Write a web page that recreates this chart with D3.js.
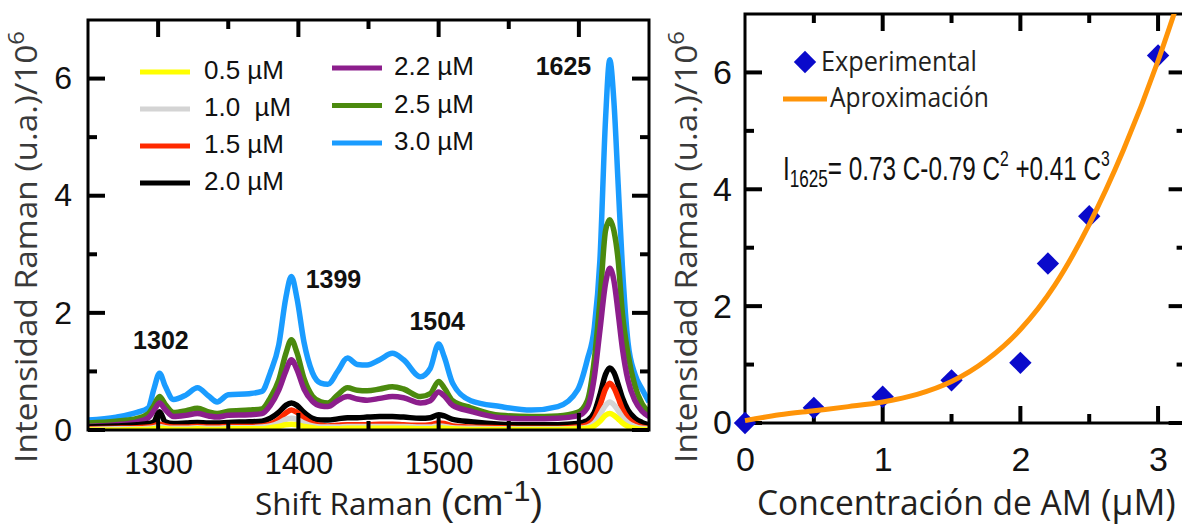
<!DOCTYPE html>
<html>
<head>
<meta charset="utf-8">
<script src="https://cdn.jsdelivr.net/npm/d3@7/dist/d3.min.js"></script>
<style>
  body { margin: 0; background: #fff; }
  svg { display: block; }
</style>
</head>
<body>
<script>
// ---- data: Raman spectra (intensity / 10^6) ----
const waveNum = [1250,1270,1285,1293,1297,1301,1305,1311,1320,1328,
                 1336,1342,1350,1365,1374,1380,1386,1391,1395,1399,
                 1404,1410,1416,1421,1428,1435,1442,1449,1458,1467,
                 1475,1487,1494,1500,1504,1510,1523,1544,1566,1585,
                 1599,1606,1611,1615,1619,1622,1625,1628,1631,1635,
                 1640,1645,1650];

const i05 = [0.00,0.00,0.01,0.01,0.02,0.03,0.02,0.01,0.01,0.02,
             0.01,0.01,0.02,0.02,0.02,0.04,0.06,0.09,0.10,0.09,
             0.06,0.04,0.02,0.02,0.02,0.03,0.03,0.03,0.03,0.03,
             0.03,0.02,0.02,0.04,0.03,0.02,0.01,0.01,0.01,0.01,
             0.02,0.03,0.07,0.15,0.25,0.28,0.25,0.19,0.12,0.06,
             0.03,0.01,0.01];
const i10 = [0.01,0.02,0.02,0.03,0.04,0.06,0.04,0.03,0.03,0.04,
             0.03,0.03,0.04,0.04,0.05,0.07,0.12,0.18,0.20,0.18,
             0.12,0.07,0.05,0.05,0.05,0.06,0.06,0.06,0.06,0.06,
             0.06,0.05,0.05,0.07,0.06,0.04,0.03,0.02,0.02,0.02,
             0.03,0.05,0.12,0.26,0.42,0.48,0.43,0.33,0.22,0.12,
             0.06,0.03,0.02];
const i15 = [0.02,0.03,0.04,0.05,0.07,0.10,0.07,0.05,0.05,0.06,
             0.05,0.05,0.06,0.06,0.07,0.10,0.18,0.29,0.34,0.30,
             0.20,0.11,0.08,0.07,0.08,0.09,0.09,0.09,0.10,0.10,
             0.09,0.08,0.09,0.12,0.11,0.07,0.05,0.04,0.03,0.03,
             0.05,0.09,0.20,0.42,0.70,0.80,0.72,0.55,0.36,0.20,
             0.10,0.05,0.03];
const i20 = [0.05,0.07,0.09,0.11,0.14,0.31,0.14,0.11,0.12,0.13,
             0.12,0.12,0.13,0.14,0.15,0.20,0.30,0.42,0.46,0.42,
             0.30,0.20,0.17,0.17,0.19,0.21,0.21,0.22,0.23,0.23,
             0.22,0.20,0.21,0.26,0.24,0.18,0.14,0.10,0.09,0.09,
             0.11,0.16,0.30,0.60,0.95,1.06,0.98,0.78,0.55,0.34,
             0.20,0.13,0.09];
const i22 = [0.06,0.09,0.14,0.21,0.33,0.46,0.35,0.23,0.25,0.28,
             0.24,0.22,0.25,0.26,0.28,0.42,0.68,1.00,1.20,1.03,
             0.70,0.49,0.41,0.40,0.50,0.57,0.53,0.51,0.54,0.57,
             0.55,0.46,0.50,0.65,0.58,0.42,0.32,0.21,0.19,0.20,
             0.24,0.38,0.90,1.70,2.50,2.76,2.55,2.00,1.40,0.85,
             0.50,0.32,0.23];
const i25 = [0.12,0.15,0.20,0.28,0.42,0.57,0.44,0.30,0.33,0.37,
             0.31,0.28,0.32,0.34,0.36,0.55,0.85,1.30,1.54,1.32,
             0.88,0.58,0.48,0.46,0.60,0.72,0.68,0.67,0.70,0.74,
             0.70,0.57,0.62,0.83,0.72,0.50,0.38,0.25,0.23,0.24,
             0.30,0.50,1.20,2.20,3.40,3.59,3.40,2.90,2.00,1.30,
             0.75,0.45,0.30];
const i30 = [0.17,0.22,0.30,0.38,0.70,0.97,0.75,0.52,0.60,0.72,
             0.58,0.48,0.60,0.62,0.66,0.98,1.45,2.25,2.62,2.25,
             1.50,0.98,0.80,0.78,1.00,1.23,1.12,1.11,1.20,1.31,
             1.20,0.91,1.05,1.47,1.25,0.80,0.50,0.40,0.34,0.40,
             0.68,1.20,1.75,2.90,5.30,6.32,5.60,4.20,2.80,1.50,
             0.95,0.70,0.48];

const seriesNames = ["0.5 µM", "1.0  µM", "1.5 µM", "2.0 µM", "2.2 µM", "2.5 µM", "3.0 µM"];
const seriesValues = [i05, i10, i15, i20, i22, i25, i30];
const seriesColors = ["#ffff00", "#d4d4d4", "#ff2a00", "#000000", "#8c1e8c", "#4b8a0e", "#1a9cff"];
const peakLabels = ["1302", "1399", "1504", "1625"];

// ---- data: calibration at 1625 cm-1 ----
const concAM = [0, 0.5, 1.0, 1.5, 2.0, 2.2, 2.5, 3.0];
const int1625 = [0, 0.26, 0.45, 0.73, 1.03, 2.73, 3.54, 6.29];
const fitConc = [0, 0.25, 0.5, 0.75, 1.0, 1.25, 1.5, 1.75, 2.0, 2.25, 2.5, 2.75, 3.0, 3.13];
const fitInt  = [0.04, 0.14, 0.21, 0.28, 0.36, 0.49, 0.71, 1.07, 1.6, 2.36, 3.4, 4.68, 6.2, 7.1];

const W = 1182, H = 527;
const numFont = "'Liberation Sans', Arial, Helvetica, sans-serif";
const humFont = "'Open Sans', 'Noto Sans', sans-serif";

const svg = d3.select("body").append("svg")
    .attr("width", W)
    .attr("height", H);

// squeeze/stretch a text horizontally so it spans a given width
function fitText(sel, x, y, width, extra) {
    const w = sel.node().getBBox().width;
    sel.attr("transform", `translate(${x},${y}) ${extra || ""} scale(${width / w},1)`);
}

// inward ticks on all four sides of a frame
function frameTicks(g, x, y, opt) {
    const [x0, x1] = x.range();
    const [y0, y1] = y.range(); // y0 bottom, y1 top
    const lines = [];
    opt.xMajor.forEach(v => { lines.push([x(v), y0, x(v), y0 - opt.major]); lines.push([x(v), y1, x(v), y1 + opt.major]); });
    opt.xMinor.forEach(v => { lines.push([x(v), y0, x(v), y0 - opt.minor]); lines.push([x(v), y1, x(v), y1 + opt.minor]); });
    opt.yMajor.forEach(v => { lines.push([x0, y(v), x0 + opt.major, y(v)]); lines.push([x1, y(v), x1 - opt.major, y(v)]); });
    opt.yMinor.forEach(v => { lines.push([x0, y(v), x0 + opt.minor, y(v)]); lines.push([x1, y(v), x1 - opt.minor, y(v)]); });
    g.append("g").selectAll("line")
        .data(lines)
        .enter().append("line")
        .attr("x1", d => d[0]).attr("y1", d => d[1])
        .attr("x2", d => d[2]).attr("y2", d => d[3])
        .attr("stroke", "#000")
        .attr("stroke-width", 4);
    g.append("rect")
        .attr("x", x0).attr("y", y1)
        .attr("width", x1 - x0).attr("height", y0 - y1)
        .attr("fill", "none")
        .attr("stroke", "#000")
        .attr("stroke-width", 3);
}

// ================= LEFT PANEL: spectra =================
const xL = d3.scaleLinear().domain([1250, 1650]).range([88, 649]);
const yL = d3.scaleLinear().domain([0, 7]).range([430, 20]);

const left = svg.append("g");

left.append("clipPath").attr("id", "clipL")
    .append("rect").attr("x", 88).attr("y", 20).attr("width", 561).attr("height", 410);

const line = d3.line()
    .x((d, i) => xL(waveNum[i]))
    .y(d => yL(d))
    .curve(d3.curveMonotoneX);

// highest concentration first so low ones sit on top
const order = d3.range(seriesValues.length).reverse();
left.append("g").attr("clip-path", "url(#clipL)")
    .selectAll("path")
    .data(order)
    .enter().append("path")
    .attr("d", i => line(seriesValues[i]))
    .attr("fill", "none")
    .attr("stroke", i => seriesColors[i])
    .attr("stroke-width", 5.5)
    .attr("stroke-linejoin", "round");

frameTicks(left, xL, yL, {
    xMajor: [1300, 1400, 1500, 1600], xMinor: [1350, 1450, 1550],
    yMajor: [0, 2, 4, 6], yMinor: [1, 3, 5], major: 17, minor: 9
});

// tick labels via d3 axes (ticks hidden, frame drawn above)
left.append("g")
    .attr("transform", "translate(0,430)")
    .call(d3.axisBottom(xL).tickValues([1300, 1400, 1500, 1600]).tickSize(0).tickPadding(22).tickFormat(d3.format("d")))
    .call(g => g.select(".domain").remove())
    .selectAll("text")
    .attr("font-family", numFont).attr("font-size", 31).attr("fill", "#111");

left.append("g")
    .attr("transform", "translate(88,0)")
    .call(d3.axisLeft(yL).tickValues([0, 2, 4, 6]).tickSize(0).tickPadding(16).tickFormat(d3.format("d")))
    .call(g => g.select(".domain").remove())
    .selectAll("text")
    .attr("font-family", numFont).attr("font-size", 32).attr("fill", "#111");

// peak labels, anchored in data units beside each peak
const peakAnchor = [[1302, 1.38], [1425, 2.42], [1499, 1.71], [1589, 6.06]];
left.append("g").selectAll("text")
    .data(peakLabels)
    .enter().append("text")
    .attr("x", (d, i) => xL(peakAnchor[i][0]))
    .attr("y", (d, i) => yL(peakAnchor[i][1]))
    .attr("text-anchor", "middle")
    .attr("font-family", numFont)
    .attr("font-weight", "bold")
    .attr("font-size", 25)
    .attr("fill", "#111")
    .text(d => d);

// legend (two columns)
const legL = left.append("g");
const legItems = legL.selectAll("g")
    .data(seriesNames.map((n, i) => ({ n, i })))
    .enter().append("g")
    .attr("transform", d => d.i < 4
        ? `translate(140,${72 + d.i * 37})`
        : `translate(332,${68 + (d.i - 4) * 37.5})`);
legItems.append("line")
    .attr("x1", 0).attr("x2", 50).attr("y1", 0).attr("y2", 0)
    .attr("stroke", d => seriesColors[d.i])
    .attr("stroke-width", 5);
legItems.append("text")
    .attr("x", d => d.i < 4 ? 64 : 62)
    .attr("y", 7)
    .attr("font-family", numFont)
    .attr("font-size", 26)
    .attr("fill", "#111")
    .style("white-space", "pre")
    .text(d => d.n);

// axis titles
const ytL = left.append("text")
    .attr("text-anchor", "middle")
    .attr("font-family", humFont)
    .attr("font-size", 31)
    .attr("fill", "#3a3a3a");
ytL.append("tspan").text("Intensidad Raman (u.a.)/10");
ytL.append("tspan").attr("dy", -13).attr("font-size", 22).text("6");
fitText(ytL, 37, 247, 432, "rotate(-90)");

const xtL = left.append("text")
    .attr("font-family", humFont)
    .attr("fill", "#231f20");
xtL.append("tspan").attr("font-size", 31).text("Shift Raman ");
xtL.append("tspan").attr("font-family", numFont).attr("font-size", 37).text("(cm");
xtL.append("tspan").attr("font-family", numFont).attr("font-size", 30).attr("dy", -14).text("-1");
xtL.append("tspan").attr("font-family", numFont).attr("font-size", 37).attr("dy", 14).text(")");
fitText(xtL, 255, 515, 288);

// ================= RIGHT PANEL: calibration =================
const xR = d3.scaleLinear().domain([0, 3.2]).range([745, 1185.6]);
const yR = d3.scaleLinear().domain([0, 7]).range([423, 14]);

const right = svg.append("g");

right.append("clipPath").attr("id", "clipR")
    .append("rect").attr("x", 730).attr("y", 14).attr("width", 460).attr("height", 430);

frameTicks(right, xR, yR, {
    xMajor: [1, 2, 3], xMinor: [0.5, 1.5, 2.5],
    yMajor: [0, 2, 4, 6], yMinor: [1, 3, 5], major: 17, minor: 9
});

// experimental points (diamonds)
const diamond = d3.symbol().type(d3.symbolSquare).size(250);
right.append("g").selectAll("path")
    .data(concAM.map((c, i) => [c, int1625[i]]))
    .enter().append("path")
    .attr("d", diamond)
    .attr("transform", d => `translate(${xR(d[0])},${yR(d[1])}) rotate(45)`)
    .attr("fill", "#0a0acb");

// fitted curve
const fitLine = d3.line()
    .x((d, i) => xR(fitConc[i]))
    .y(d => yR(d))
    .curve(d3.curveMonotoneX);
right.append("path")
    .attr("clip-path", "url(#clipR)")
    .attr("d", fitLine(fitInt))
    .attr("fill", "none")
    .attr("stroke", "#ff9408")
    .attr("stroke-width", 5);

right.append("g")
    .attr("transform", "translate(0,423)")
    .call(d3.axisBottom(xR).tickValues([0, 1, 2, 3]).tickSize(0).tickPadding(24).tickFormat(d3.format("d")))
    .call(g => g.select(".domain").remove())
    .selectAll("text")
    .attr("font-family", numFont).attr("font-size", 34).attr("fill", "#111");

right.append("g")
    .attr("transform", "translate(745,0)")
    .call(d3.axisLeft(yR).tickValues([0, 2, 4, 6]).tickSize(0).tickPadding(13).tickFormat(d3.format("d")))
    .call(g => g.select(".domain").remove())
    .selectAll("text")
    .attr("font-family", numFont).attr("font-size", 34).attr("fill", "#111");

// legend
const legR = right.append("g");
legR.append("path")
    .attr("d", diamond)
    .attr("transform", "translate(805,62) rotate(45)")
    .attr("fill", "#0a0acb");
const expText = legR.append("text")
    .attr("font-family", humFont).attr("font-size", 28).attr("fill", "#231f20")
    .text("Experimental");
fitText(expText, 821, 71, 156);
legR.append("line")
    .attr("x1", 783).attr("x2", 827).attr("y1", 99).attr("y2", 99)
    .attr("stroke", "#ff9408").attr("stroke-width", 5);
const aproxText = legR.append("text")
    .attr("font-family", humFont).attr("font-size", 28).attr("fill", "#231f20")
    .text("Aproximación");
fitText(aproxText, 830, 107, 159);

// equation
const eq = right.append("text")
    .attr("font-family", numFont)
    .attr("font-size", 34)
    .attr("fill", "#111");
eq.append("tspan").text("I");
eq.append("tspan").attr("font-size", 24).attr("dy", 7).text("1625");
eq.append("tspan").attr("dy", -7).text("= 0.73 C-0.79 C");
eq.append("tspan").attr("font-size", 22).attr("dy", -14).text("2");
eq.append("tspan").attr("dy", 14).text(" +0.41 C");
eq.append("tspan").attr("font-size", 22).attr("dy", -14).text("3");
fitText(eq, 783, 180, 327);

// axis titles
const ytR = right.append("text")
    .attr("text-anchor", "middle")
    .attr("font-family", humFont)
    .attr("font-size", 31)
    .attr("fill", "#3a3a3a");
ytR.append("tspan").text("Intensidad Raman (u.a.)/10");
ytR.append("tspan").attr("dy", -13).attr("font-size", 22).text("6");
fitText(ytR, 697, 247, 432, "rotate(-90)");

const xtR = right.append("text")
    .attr("font-family", humFont)
    .attr("fill", "#231f20");
xtR.append("tspan").attr("font-size", 34).text("Concentración de AM");
xtR.append("tspan").attr("font-size", 36).text(" (µM)");
fitText(xtR, 757, 515, 419);
</script>
</body>
</html>
